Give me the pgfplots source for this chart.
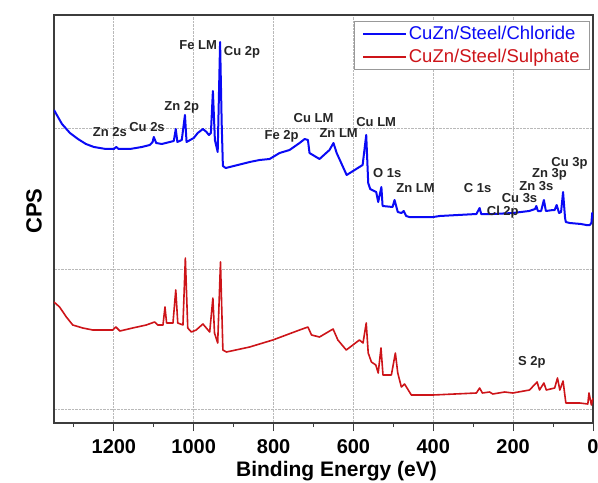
\documentclass[border=0pt]{standalone}
\usepackage{pgfplots}
\pgfplotsset{compat=1.18}
\usepackage{fontspec}
\setmainfont{Liberation Sans}
\usetikzlibrary{calc}
\definecolor{chlor}{RGB}{10,10,245}
\definecolor{sulph}{RGB}{205,20,25}
\definecolor{frame}{RGB}{60,60,60}
\begin{document}
\begin{tikzpicture}
\begin{axis}[
  scale only axis, width=539pt, height=408pt,
  x dir=reverse, xmin=0, xmax=1350, ymin=0, ymax=408,
  xtick={0,200,...,1200}, minor xtick={100,300,...,1300},
  ytick={14,154,295}, yticklabels={}, ytick style={draw=none},
  tick align=outside, xtick pos=bottom,
  major tick length=8pt, minor tick length=4pt,
  x tick style={frame, line width=1pt},
  /pgf/number format/assume math mode=true,
  /pgf/number format/1000 sep={},
  xticklabel style={font=\fontsize{20}{24}\selectfont\bfseries, yshift=-5pt},
  grid=major,
  major grid style={gray!55, densely dotted, line width=0.8pt},
  axis line style={frame, line width=1.3pt},
  xlabel={Binding Energy (eV)}, ylabel={CPS},
  xlabel style={font=\fontsize{21}{25}\selectfont\bfseries,
    at={(axis description cs:0.524,0)}, anchor=base, yshift=-53.5pt},
  ylabel style={font=\fontsize{22}{26}\selectfont\bfseries,
    at={(axis description cs:0,0.519)}, anchor=center, yshift=20pt},
  legend style={at={(1,1)}, anchor=north east, xshift=-3pt, yshift=-6pt,
    draw=gray!80, line width=0.8pt, font=\fontsize{18.5}{22}\selectfont,
    inner xsep=8pt, inner ysep=3pt, row sep=4pt},
  legend image code/.code={\draw[#1, line width=1.6pt] (0pt,0pt) -- (43pt,0pt);},
  legend cell align=left,
]
\addplot[chlor, line width=2pt, line join=round] coordinates {
(1350,313) (1330,299) (1310,290) (1290,284) (1270,279) (1250,276) (1220,274)
(1200,274) (1194,276) (1188,274) (1160,274) (1130,276) (1110,278) (1103,281)
(1100,286) (1094,280) (1080,279) (1060,281) (1050,282) (1045,294) (1041,281)
(1030,283) (1022,308) (1018,281) (1000,285) (990,290) (977,294) (968,291)
(962,288) (957,290) (952,332) (947,283) (940,271) (934,381) (930,300)
(927,257) (920,255) (900,257) (880,259) (860,261) (835,263) (810,264)
(785,270) (760,273) (735,280) (722,284) (714,283) (710,270) (685,264)
(660,273) (650,280) (642,270) (617,248) (585,256) (577,258) (568,288)
(563,240) (558,234) (543,231) (538,221) (530,236) (527,217) (502,216)
(497,223) (489,211) (480,210) (474,212) (468,207) (460,206) (400,206)
(384,207) (292,209) (284,215) (280,209) (250,209) (201,210) (160,212)
(145,214) (142,217) (138,212) (130,212) (123,223) (118,212) (100,213)
(96,213) (91,218) (85,210) (80,211) (75,231) (70,205) (68,201) (58,200)
(30,199) (17,198) (8,198) (4,200) (2,210) (0,204)
};
\addlegendentry[text=chlor]{CuZn/Steel/Chloride}
\addplot[sulph, line width=1.6pt, line join=round] coordinates {
(1350,121) (1336,116) (1319,106) (1303,98) (1278,95) (1253,93) (1203,93)
(1195,96) (1185,92) (1153,95) (1119,98) (1098,101) (1090,98) (1077,98)
(1072,116) (1068,100) (1052,100) (1045,133) (1040,100) (1027,98) (1021,165)
(1015,95) (1006,91) (994,93) (977,99) (960,91) (952,125) (948,90) (940,80)
(933,161) (927,73) (918,71) (860,76) (802,83) (735,93) (714,96) (705,88)
(685,86) (651,94) (639,83) (618,73) (585,83) (576,80) (568,100) (563,70)
(555,61) (544,58) (538,50) (531,75) (526,48) (505,48) (495,70) (489,50)
(480,36) (472,39) (455,28) (401,28) (292,30) (284,35) (277,30) (259,31)
(251,29) (221,31) (201,30) (159,33) (140,41) (134,33) (123,40) (117,33)
(96,35) (89,45) (83,33) (75,42) (68,20) (33,20) (13,19) (10,30) (4,18) (0,25)
};
\addlegendentry[text=sulph]{CuZn/Steel/Sulphate}
\begin{scope}[every node/.style={font=\fontsize{13}{15}\selectfont\bfseries, text=black!85, inner sep=0pt}]
\node at (axis cs:989,378) {Fe LM};
\node at (axis cs:879,371) {Cu 2p};
\node at (axis cs:1030,316) {Zn 2p};
\node at (axis cs:1117,296) {Cu 2s};
\node at (axis cs:1210,290.5) {Zn 2s};
\node at (axis cs:780,287) {Fe 2p};
\node at (axis cs:700,305) {Cu LM};
\node at (axis cs:637,290) {Zn LM};
\node at (axis cs:543,301) {Cu LM};
\node at (axis cs:515.5,250) {O 1s};
\node at (axis cs:444.6,235) {Zn LM};
\node at (axis cs:289,235) {C 1s};
\node at (axis cs:226,210.5) {Cl 2p};
\node at (axis cs:184,224.5) {Cu 3s};
\node at (axis cs:142,237) {Zn 3s};
\node at (axis cs:109,249) {Zn 3p};
\node at (axis cs:59,260) {Cu 3p};
\node at (axis cs:153,60.7) {S 2p};
\end{scope}
\end{axis}
\pgfresetboundingbox
\path ($(current axis.south west)+(-54pt,-59pt)$) rectangle ($(current axis.north east)+(5pt,15pt)$);
\end{tikzpicture}
\end{document}
